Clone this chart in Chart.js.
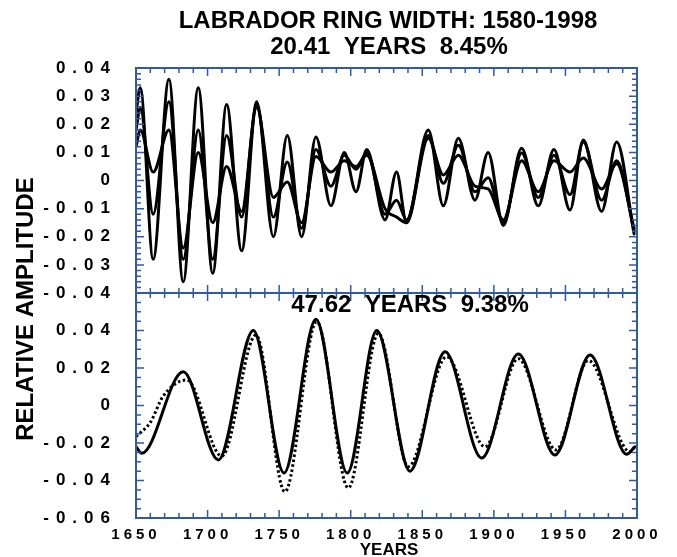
<!DOCTYPE html>
<html><head><meta charset="utf-8">
<script src="https://cdn.jsdelivr.net/npm/chart.js@4.4.0/dist/chart.umd.min.js"></script>
<style>
html,body{margin:0;padding:0;background:#fff;}
#wrap{position:relative;width:677px;height:557px;}
canvas{position:absolute;left:0;top:0;}
</style></head><body>
<div id="wrap"><canvas id="c1" width="677" height="557"></canvas><canvas id="c2" width="677" height="557"></canvas></div>
<script>
// ---- texts ----
const titleLine1 = 'LABRADOR RING WIDTH: 1580-1998';
const titleLine2 = '20.41  YEARS  8.45%';
const panel2Label = '47.62  YEARS  9.38%';
const yAxisTitle = 'RELATIVE AMPLITUDE';
const xAxisTitle = 'YEARS';
const xTickLabels = ['1650','1700','1750','1800','1850','1900','1950','2000'];
const yTickLabelsTop = ['-0.04','-0.03','-0.02','-0.01','0','0.01','0.02','0.03','0.04'];
const yTickLabelsBottom = ['-0.06','-0.04','-0.02','0','0.02','0.04',''];

// ---- top panel (20.41-year component): three reconstructions ----
const years20 = [1650,1653,1662,1673,1683,1693.5,1703.6,1713.3,1723.8,1734.3,1746,1755.7,1765.7,1775.7,1786.2,1795.5,1803.7,1811.2,1824,1832,1839,1854.2,1864.7,1875.2,1886.8,1896,1906.6,1919.4,1931,1942,1953.2,1962.5,1975.3,1985.8,1998];
const compA = [0.024,0.033,-0.028,0.036,-0.036,0.033,-0.033,0.027,-0.025,0.028,-0.020,0.016,-0.020,0.0155,-0.009,0.010,-0.004,0.011,-0.014,0.003,-0.015,0.018,-0.009,0.015,-0.007,0.010,-0.016,0.0115,-0.009,0.011,-0.0105,0.0144,-0.011,0.0137,-0.019];
const compB = [0.018,0.026,-0.012,0.028,-0.028,0.018,-0.028,0.016,-0.013,0.027,-0.013,0.0066,-0.017,0.011,-0.002,0.009,0.004,0.010,-0.012,-0.007,-0.014,0.016,-0.001,0.0125,-0.004,0.001,-0.015,0.0098,-0.006,0.009,-0.005,0.0137,-0.007,0.007,-0.018];
const compC = [0.012,0.018,0.003,0.018,-0.024,0.010,-0.015,0.005,-0.011,0.026,-0.006,-0.0005,-0.015,0.0085,0.003,0.007,0.005,0.009,-0.010,-0.013,-0.015,0.015,0.002,0.009,-0.002,-0.003,-0.014,0.007,-0.004,0.007,0.003,0.008,-0.003,0.006,-0.017];

// ---- bottom panel (47.62-year component) ----
const years47Solid = [1650,1654,1683,1707.5,1732,1753.4,1775.7,1797.6,1818.2,1841.4,1865.9,1891.5,1917.1,1942.7,1967.2,1992.8,1998.5];
const solid47 = [-0.022,-0.0255,0.018,-0.029,0.040,-0.036,0.046,-0.036,0.040,-0.035,0.0287,-0.028,0.0275,-0.0264,0.027,-0.026,-0.022];
const years47Dot = [1650,1660,1669,1685.4,1709.9,1733.8,1754,1776.2,1798.3,1819.3,1840.2,1867,1893.8,1917,1943.4,1966,1995,1998.5];
const dot47 = [-0.0166,-0.009,0.005,0.0136,-0.027,0.0376,-0.046,0.0447,-0.044,0.0385,-0.0326,0.026,-0.022,0.025,-0.0237,0.024,-0.0246,-0.022];

// ---- style constants ----
const FRAME = '#2f5aa8';
const X_MIN = 1650, X_MAX = 2000, X_STEP = 50, X_MINOR = 10;
const Y_TICK_FONT = {family:'"Liberation Sans", Arial, sans-serif', size:17, weight:'bold'};
const X_TICK_FONT = {family:'"Liberation Sans", Arial, sans-serif', size:15, weight:'bold'};
const Y_LETTER_SP = '7px';
const X_LETTER_SP = '4px';

const pts = (xs, ys) => xs.map((x,i)=>({x, y: ys[i]}));

function lineDs(data, dash){
  return {data, borderColor:'#000', borderWidth:3, pointRadius:0, fill:false,
    cubicInterpolationMode:'monotone', borderDash: dash || [], borderCapStyle: dash ? 'butt':'round', borderJoinStyle:'round'};
}

function spaced(scale, sp){
  if (scale._spacedPatch) return;
  const orig = scale.drawLabels.bind(scale);
  scale.drawLabels = function(area){
    const c = this.ctx; c.save(); c.letterSpacing = sp; orig(area); c.restore();
  };
  scale._spacedPatch = true;
}

function framePlugin(yMinor, yMajor){
  return {
    id:'frame',
    beforeDraw(chart){
      spaced(chart.scales.y, Y_LETTER_SP);
      spaced(chart.scales.x, X_LETTER_SP);
    },
    afterDraw(chart){
      const {ctx, chartArea:a, scales:{x,y}} = chart;
      ctx.save();
      ctx.strokeStyle = FRAME;
      ctx.lineWidth = 1.5;
      ctx.beginPath();
      const nx = Math.round((x.max - x.min)/X_MINOR);
      for(let i=0;i<=nx;i++){
        const v = x.min + i*X_MINOR;
        const p = x.getPixelForValue(v);
        const L = (i % (X_STEP/X_MINOR) === 0) ? 8 : 5;
        ctx.moveTo(p, a.bottom); ctx.lineTo(p, a.bottom - L);
        ctx.moveTo(p, a.top); ctx.lineTo(p, a.top + L);
      }
      const ny = Math.round((y.max - y.min)/yMinor);
      const per = Math.round(yMajor/yMinor);
      for(let i=0;i<=ny;i++){
        const v = y.min + i*yMinor;
        const p = y.getPixelForValue(v);
        const L = (i % per === 0) ? 8 : 5;
        ctx.moveTo(a.left, p); ctx.lineTo(a.left + L, p);
        ctx.moveTo(a.right, p); ctx.lineTo(a.right - L, p);
      }
      ctx.stroke();
      ctx.lineWidth = 2;
      ctx.strokeRect(a.left, a.top, a.right - a.left, a.bottom - a.top);
      ctx.restore();
    }
  };
}

const textPlugin = {
  id:'texts',
  afterDraw(chart){
    const ctx = chart.ctx;
    ctx.save();
    ctx.fillStyle = '#000';
    ctx.textAlign = 'center';
    ctx.textBaseline = 'middle';
    ctx.font = 'bold 24px "Liberation Sans", Arial, sans-serif';
    ctx.fillText(titleLine1, 388, 21);
    ctx.fillText(titleLine2, 389, 47);
    ctx.fillText(panel2Label, 410, 305);
    ctx.font = 'bold 17px "Liberation Sans", Arial, sans-serif';
    ctx.fillText(xAxisTitle, 389, 550);
    ctx.translate(26, 309);
    ctx.rotate(-Math.PI/2);
    ctx.font = 'bold 24px "Liberation Sans", Arial, sans-serif';
    ctx.fillText(yAxisTitle, 0, 0);
    ctx.restore();
  }
};

const commonX = (show) => {
  const o = {
    type:'linear', min:X_MIN, max:X_MAX, display: show,
    grid:{display:false, drawTicks:false}, border:{display:false},
    ticks:{stepSize:X_STEP, autoSkip:false, maxRotation:0, color:'#000', font:X_TICK_FONT, padding:8,
      callback:(v,i)=>xTickLabels[i]}
  };
  if (show) o.afterFit = (s)=>{ s.height = 39; };
  return o;
};

const yOpts = (min, max, step, labels) => ({
  type:'linear', min, max,
  grid:{display:false, drawTicks:false}, border:{display:false},
  ticks:{stepSize:step, color:'#000', font:Y_TICK_FONT, padding:19, callback:(v,i)=>labels[i]},
  afterFit:(s)=>{ s.width = 136; }
});

new Chart(document.getElementById('c1'), {
  type:'line',
  data:{datasets:[lineDs(pts(years20, compA)), lineDs(pts(years20, compB)), lineDs(pts(years20, compC))]},
  options:{
    responsive:false, animation:false, devicePixelRatio:1,
    layout:{padding:{top:68, right:40, bottom:264, left:0}},
    plugins:{legend:{display:false}, tooltip:{enabled:false}},
    scales:{ x: commonX(false), y: yOpts(-0.04, 0.04, 0.01, yTickLabelsTop) }
  },
  plugins:[framePlugin(0.002, 0.01)]
});

new Chart(document.getElementById('c2'), {
  type:'line',
  data:{datasets:[lineDs(pts(years47Solid, solid47)), lineDs(pts(years47Dot, dot47), [2.5,2.5])]},
  options:{
    responsive:false, animation:false, devicePixelRatio:1,
    layout:{padding:{top:293, right:40, bottom:0, left:0}},
    plugins:{legend:{display:false}, tooltip:{enabled:false}},
    scales:{ x: commonX(true), y: yOpts(-0.06, 0.06, 0.02, yTickLabelsBottom) }
  },
  plugins:[framePlugin(0.005, 0.02), textPlugin]
});
</script>
</body></html>
